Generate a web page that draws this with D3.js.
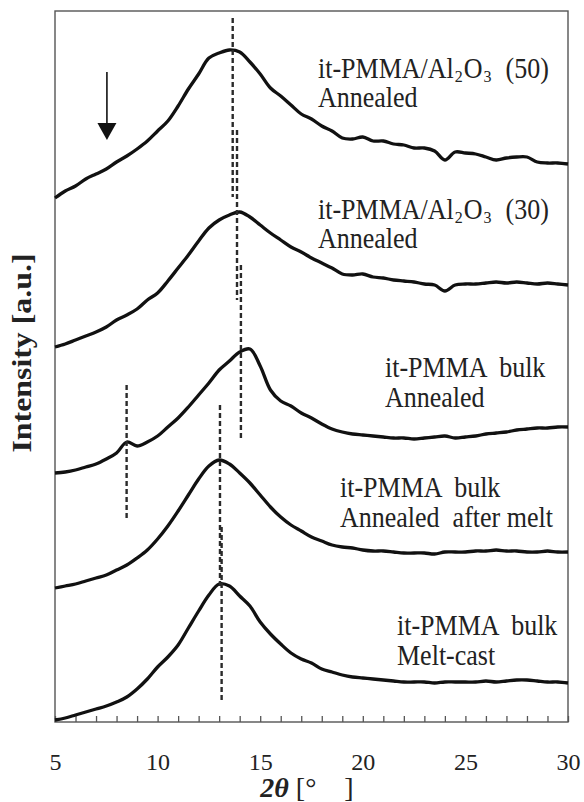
<!DOCTYPE html>
<html>
<head>
<meta charset="utf-8">
<script src="https://cdn.jsdelivr.net/npm/d3@7"></script>
<style>
  body { margin: 0; background: #fff; }
  svg { display: block; }
  text { font-family: "Liberation Serif", "Times New Roman", serif; fill: #222; }
</style>
</head>
<body>
<svg id="chart" width="584" height="802"></svg>
<script>
// Diffraction angle grid (degrees 2θ)
const twoTheta = [5, 5.5, 6, 6.5, 7, 7.5, 8, 8.5, 9, 9.5, 10, 10.5, 11, 11.5, 12, 12.5, 13, 13.5,
  14, 14.5, 15, 15.5, 16, 16.5, 17, 17.5, 18, 18.5, 19, 19.5, 20, 20.5, 21, 21.5, 22, 22.5,
  23, 23.5, 24, 24.5, 25, 25.5, 26, 26.5, 27, 27.5, 28, 28.5, 29, 29.5, 30];

// Stacked intensities (a.u., vertically offset)
const al2o3_50 = [524, 531, 536, 543, 548, 553, 560, 566, 573, 581, 591, 601, 616, 633, 648, 664, 669, 672,
  670, 660, 648, 634, 626, 617, 608, 603, 596, 591, 584, 583, 585, 581, 581, 578, 577, 574,
  574, 571, 562, 570, 569, 568, 565, 562, 564, 565, 565, 560, 559, 559, 558];
const al2o3_30 = [375, 378, 382, 386, 390, 395, 402, 407, 413, 422, 429, 441, 454, 467, 481, 494, 502, 507,
  510, 505, 497, 489, 482, 475, 470, 464, 459, 454, 448, 447, 448, 445, 444, 442, 441, 440,
  438, 437, 431, 437, 438, 438, 439, 440, 439, 440, 439, 438, 439, 438, 437];
const bulkAnnealed = [249, 250, 252, 255, 258, 263, 269, 280, 276, 280, 286, 295, 304, 315, 327, 339, 352, 361,
  370, 373, 356, 332, 321, 316, 309, 304, 298, 293, 290, 288, 287, 286, 285, 284, 284, 283,
  284, 285, 286, 284, 285, 286, 288, 289, 290, 292, 293, 294, 294, 295, 295];
const bulkAfterMelt = [134, 136, 138, 141, 144, 147, 152, 157, 164, 172, 183, 196, 211, 227, 243, 256, 262, 258,
  249, 239, 227, 215, 205, 197, 191, 185, 181, 177, 175, 174, 172, 171, 171, 170, 169, 169,
  169, 168, 170, 170, 170, 171, 171, 172, 171, 171, 170, 170, 171, 170, 170];
const bulkMeltCast = [2, 4, 7, 10, 13, 16, 20, 25, 33, 43, 55, 65, 77, 94, 111, 127, 138, 136,
  126, 116, 100, 88, 78, 69, 63, 59, 53, 50, 47, 45, 44, 43, 42, 41, 40, 40,
  40, 39, 40, 40, 40, 40, 41, 40, 41, 42, 42, 41, 40, 40, 39];

// Peak-position markers: 2θ and intensity span
const markerAngle = [13.66, 13.87, 14.06, 8.49, 13.04, 13.12];
const markerTop = [704, 592, 457, 337, 317, 195];
const markerBottom = [525, 422, 284, 204, 135, 19];

// Arrow annotation (2θ, intensity from → to)
const arrowAngle = 7.53;
const arrowFrom = 650;
const arrowTo = 582;

// Curve labels ("_n" marks a subscript digit)
const labelLines = [
  ["it-PMMA/Al_2O_3  (50)", "Annealed"],
  ["it-PMMA/Al_2O_3  (30)", "Annealed"],
  ["it-PMMA  bulk", "Annealed"],
  ["it-PMMA  bulk", "Annealed  after melt"],
  ["it-PMMA  bulk", "Melt-cast"]
];

const xTicks = [5, 6, 7, 8, 9, 10, 11, 12, 13, 14, 15, 16, 17, 18, 19, 20, 21, 22, 23, 24, 25, 26, 27, 28, 29, 30];
const xTickLabels = [5, 10, 15, 20, 25, 30];

const series = [al2o3_50, al2o3_30, bulkAnnealed, bulkAfterMelt, bulkMeltCast];

const svg = d3.select("#chart");
const x = d3.scaleLinear().domain([5, 30]).range([55, 568]);
const y = d3.scaleLinear().domain([0, 711]).range([722, 11]);

// Frame
svg.append("rect")
  .attr("x", x(5)).attr("y", y(711))
  .attr("width", x(30) - x(5)).attr("height", y(0) - y(711))
  .attr("fill", "none").attr("stroke", "#555").attr("stroke-width", 1.4);

// Bottom axis: inward ticks every degree, labels every 5
const xAxis = d3.axisBottom(x)
  .tickValues(xTicks)
  .tickSize(-6)
  .tickPadding(31)
  .tickFormat(d => xTickLabels.includes(d) ? d : "");
const gx = svg.append("g").attr("transform", `translate(0,${y(0)})`).call(xAxis);
gx.select(".domain").remove();
gx.selectAll(".tick line").attr("stroke", "#555").attr("stroke-width", 1.3);
gx.selectAll(".tick text")
  .attr("font-family", "'Liberation Serif', 'Times New Roman', serif")
  .attr("font-size", 24).attr("fill", "#222");
gx.selectAll(".tick text").filter(d => !xTickLabels.includes(d)).remove();

// Intensity curves
const line = d3.line()
  .x((d, i) => x(twoTheta[i]))
  .y(d => y(d))
  .curve(d3.curveCatmullRom.alpha(0.5));
svg.append("g").selectAll("path").data(series).join("path")
  .attr("d", line)
  .attr("fill", "none")
  .attr("stroke", "#111")
  .attr("stroke-width", 3.3)
  .attr("stroke-linejoin", "round");

// Dashed peak markers
svg.append("g").selectAll("line").data(markerAngle).join("line")
  .attr("x1", d => x(d)).attr("x2", d => x(d))
  .attr("y1", (d, i) => y(markerTop[i]))
  .attr("y2", (d, i) => y(markerBottom[i]))
  .attr("stroke", "#2a2a2a").attr("stroke-width", 2.4)
  .attr("stroke-dasharray", "5,3");

// Arrow
const ax = x(arrowAngle);
svg.append("line")
  .attr("x1", ax).attr("x2", ax)
  .attr("y1", y(arrowFrom)).attr("y2", y(arrowTo) - 12)
  .attr("stroke", "#111").attr("stroke-width", 1.6);
svg.append("path")
  .attr("d", `M${ax - 9.5},${y(arrowTo) - 17} L${ax + 9.5},${y(arrowTo) - 17} L${ax},${y(arrowTo)} Z`)
  .attr("fill", "#111");

// Labels
const labelPos = [
  { x: 318, y: 78, gap: 29 },
  { x: 318, y: 219, gap: 29 },
  { x: 385, y: 377, gap: 30 },
  { x: 340, y: 497, gap: 30 },
  { x: 397, y: 635, gap: 30 }
];
labelLines.forEach((lines, k) => {
  lines.forEach((str, j) => {
    const g = svg.append("g")
      .attr("transform", `translate(${labelPos[k].x},${labelPos[k].y + j * labelPos[k].gap}) scale(1,1.1)`);
    const t = g.append("text").attr("font-size", 26).style("white-space", "pre");
    let shifted = false;
    str.split(/_(\d)/).forEach((part, p) => {
      if (!part) return;
      const ts = t.append("tspan").text(part);
      if (p % 2 === 1) {
        ts.attr("font-size", 16).attr("dy", 4).attr("dx", 1);
        shifted = true;
      } else if (shifted) {
        ts.attr("dy", -4).attr("dx", 1);
        shifted = false;
      }
    });
  });
});

// Y axis title
svg.append("g")
  .attr("transform", `translate(31,353) rotate(-90) scale(1.18,1)`)
  .append("text")
  .attr("text-anchor", "middle")
  .attr("font-size", 27)
  .attr("font-weight", "bold")
  .text("Intensity [a.u.]");

// X axis title
const xt = svg.append("text")
  .attr("x", 307).attr("y", 797)
  .attr("text-anchor", "middle")
  .attr("font-size", 28)
  .style("white-space", "pre");
xt.append("tspan").attr("font-weight", "bold").attr("font-style", "italic").text("2θ");
xt.append("tspan").text(" [°    ]");
</script>
</body>
</html>
